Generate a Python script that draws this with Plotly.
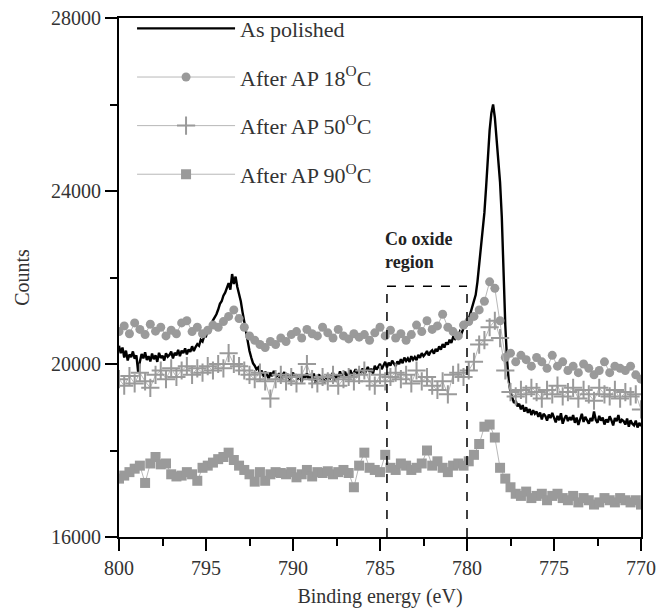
import numpy as np
import plotly.graph_objects as go

# ---------------- data ----------------
energy_dense = np.round(np.linspace(800, 770, 301), 2).tolist()
as_polished = [
    20420, 20250, 20380, 20150, 20310, 20080, 20220, 20160, 20290, 20120,
    20200, 19820, 20050, 20230, 20130, 20270, 20090, 20180, 20060, 20240,
    20110, 20200, 20050, 20260, 20140, 20190, 20080, 20250, 20170, 20210,
    20290, 20130, 20260, 20200, 20330, 20180, 20310, 20250, 20360, 20220,
    20340, 20280, 20410, 20300, 20390, 20460, 20420, 20560, 20520, 20650,
    20640, 20780, 20830, 20900, 21010, 21080, 21150, 21260, 21390, 21450,
    21580, 21650, 21740, 21870, 21720, 22080, 21850, 22020, 21780, 21620,
    21450, 21200, 20950, 20700, 20480, 20300, 20150, 20020, 19960, 19880,
    19920, 19780, 19850, 19700, 19820, 19760, 19650, 19800, 19720, 19840,
    19750, 19680, 19790, 19620, 19740, 19810, 19690, 19770, 19600, 19730,
    19800, 19690, 19760, 19640, 19720, 19580, 19750, 19680, 19790, 19640,
    19710, 19620, 19780, 19550, 19700, 19760, 19630, 19720, 19580, 19690,
    19750, 19640, 19720, 19800, 19610, 19740, 19680, 19830, 19700, 19770,
    19820, 19690, 19760, 19860, 19720, 19800, 19880, 19750, 19840, 19790,
    19900, 19760, 19850, 19930, 19820, 19890, 19780, 19960, 19870, 19940,
    20000, 19880, 19980, 20050, 19920, 20030, 19960, 20080, 20010, 19950,
    20060, 20000, 20110, 20020, 20150, 20070, 20130, 20050, 20180, 20100,
    20160, 20090, 20210, 20140, 20250, 20180, 20230, 20300, 20200, 20280,
    20320, 20240, 20350, 20290, 20410, 20330, 20460, 20380, 20500, 20450,
    20560, 20490, 20620, 20580, 20690, 20650, 20760, 20720, 20830, 20850,
    20900, 21050, 21200, 21300, 21450, 21600, 21900, 22300, 22700, 23100,
    23500, 24100, 24800, 25400, 25800, 26000, 25700, 25200, 24700, 24200,
    23400, 22100, 20900, 20100, 19600, 19350, 19200, 19100, 19150, 19020,
    19080, 18950, 19050, 18900, 19000, 18870, 18960, 18820, 18930, 18850,
    18900, 18780, 18880, 18720, 18850, 18800, 18690, 18830, 18750, 18870,
    18760, 18650, 18800, 18700, 18860, 18620, 18740, 18810, 18680, 18770,
    18700, 18820, 18640, 18760, 18590, 18730, 18850, 18660, 18780, 18700,
    18620, 18750, 18680, 18900, 18710, 18640, 18800, 18690, 18760, 18600,
    18720, 18650, 18790, 18700, 18580, 18750, 18680, 18820, 18640, 18710,
    18680, 18600, 18740, 18550, 18700, 18620, 18580, 18690, 18530, 18640,
    18560,
]

energy_sparse = np.round(np.linspace(800, 770, 101), 2).tolist()
ap_18 = [
    20750, 20880, 20700, 20950, 20800, 20680, 20920, 20760, 20850, 20650,
    20780, 20700, 20950, 21000, 20750, 20850, 20700, 20780, 20900, 20850,
    20980, 21100, 21250, 21050, 20850, 20650, 20550, 20450, 20380, 20520,
    20450, 20600, 20520, 20680, 20750, 20600, 20800, 20700, 20650, 20850,
    20720, 20600, 20800, 20650, 20580, 20700, 20620, 20680, 20550, 20720,
    20850, 20650, 20780, 20600, 20700, 20550, 20680, 20900, 20750, 21000,
    20800, 20880, 21150, 20850, 20750, 20650, 20900, 20980, 21100, 21250,
    21450, 21900, 21750, 21000, 20150, 20250, 20050, 20200, 20100, 19950,
    20150, 20050, 19900, 20200, 19950, 20050, 19850, 19950, 19800, 20000,
    19900, 19750, 19850, 20050, 19800, 19950, 19900, 19850, 19950, 19750,
    19650,
]
ap_50 = [
    19650, 19500, 19720, 19550, 19800, 19600, 19450, 19750, 19850, 19650,
    19900, 19700, 19850, 19950, 19750, 19900, 19800, 19950, 19850, 20000,
    19900, 20250, 20000, 19950, 19850, 19750, 19650, 19800, 19600, 19200,
    19650, 19750, 19600, 19700, 19550, 19750, 20000, 19650, 19550, 19700,
    19600, 19750, 19500, 19650, 19700, 19600, 19750, 19850, 19600, 19500,
    19750, 19600, 19700, 19800, 19650, 19750, 19550, 19850, 19600, 19700,
    19500, 19400, 19600, 19300, 19750, 19800, 19700, 19850, 20050, 20450,
    20550, 20850, 21000, 20600, 19850, 19350, 19250, 19400, 19300, 19450,
    19350, 19200, 19400, 19300, 19500, 19250, 19350, 19450, 19200, 19400,
    19300, 19150, 19450, 19300, 19250, 19400, 19200, 19350, 19250, 19300,
    18950,
]
ap_90 = [
    17350, 17420, 17500, 17580, 17650, 17250, 17700, 17850, 17680, 17700,
    17450, 17400, 17420, 17500, 17450, 17300, 17600, 17650, 17720, 17800,
    17850, 17950, 17780, 17650, 17550, 17450, 17280, 17500, 17300, 17450,
    17500, 17480, 17450, 17500, 17380, 17450, 17550, 17400, 17500, 17480,
    17520, 17450, 17500, 17550, 17480, 17150, 17650, 17950, 17600, 17550,
    17500, 17900, 17600, 17550, 17700, 17650, 17550, 17600, 17700, 18000,
    17650, 17750, 17600, 17500, 17650, 17700, 17650, 17750, 17900, 18150,
    18550, 18600, 18300, 17600, 17350, 17150, 17000, 16950, 17050, 16900,
    16950, 17000, 16850, 16950, 17000, 16900, 16850, 16950, 16800, 16900,
    16850, 16750, 16800, 16900, 16850, 16800, 16900, 16850, 16800, 16850,
    16750,
]

x_ticks = [800, 795, 790, 785, 780, 775, 770]
y_ticks = [16000, 20000, 24000, 28000]
oxide_box_x = [784.6, 780.0]
oxide_box_top = 21800

FONT = "Liberation Serif"
GRAY = "#9a9a9a"
LINEGRAY = "#b8b8b8"

fig = go.Figure()
fig.add_trace(go.Scatter(
    x=energy_dense, y=as_polished, mode="lines", name="As polished",
    line=dict(color="black", width=2.4), legendgroup="a"))
fig.add_trace(go.Scatter(
    x=energy_sparse, y=ap_18, mode="lines+markers", name="After AP 18<sup>O</sup>C",
    line=dict(color=LINEGRAY, width=1),
    marker=dict(symbol="circle", size=9, color=GRAY), legendgroup="b"))
fig.add_trace(go.Scatter(
    x=energy_sparse, y=ap_50, mode="lines+markers", name="After AP 50<sup>O</sup>C",
    line=dict(color=LINEGRAY, width=1),
    marker=dict(symbol="cross-thin", size=13, color=GRAY, line=dict(color=GRAY, width=2)),
    legendgroup="c"))
fig.add_trace(go.Scatter(
    x=energy_sparse, y=ap_90, mode="lines+markers", name="After AP 90<sup>O</sup>C",
    line=dict(color=LINEGRAY, width=1),
    marker=dict(symbol="square", size=10, color=GRAY), legendgroup="d"))

# Co oxide region dashed box
dash = dict(color="black", width=1.5, dash="dash")
fig.add_shape(type="line", x0=oxide_box_x[0], x1=oxide_box_x[0], y0=16000, y1=oxide_box_top, line=dash)
fig.add_shape(type="line", x0=oxide_box_x[1], x1=oxide_box_x[1], y0=16000, y1=oxide_box_top, line=dash)
fig.add_shape(type="line", x0=oxide_box_x[0], x1=oxide_box_x[1], y0=oxide_box_top, y1=oxide_box_top, line=dash)
fig.add_annotation(x=oxide_box_x[0], y=oxide_box_top, xanchor="left", yanchor="bottom",
                   text="<b>Co oxide<br>region</b>", showarrow=False, align="left", yshift=12,
                   xshift=-4, font=dict(family=FONT, size=18, color="#222"))

axis_common = dict(
    showgrid=False, zeroline=False, showline=True, linecolor="black", linewidth=2,
    mirror=True, ticks="outside", ticklen=12, tickwidth=2, tickcolor="black",
    tickfont=dict(family=FONT, size=20, color="#333"),
)
fig.update_xaxes(
    range=[800, 770], tickvals=x_ticks, **axis_common,
    minor=dict(dtick=2.5, ticks="outside", ticklen=7, tickwidth=2, tickcolor="black"),
    title=dict(text="Binding energy (eV)", font=dict(family=FONT, size=20, color="#333"), standoff=11),
)
fig.update_yaxes(
    range=[16000, 28000], tickvals=y_ticks, tickformat="d", **axis_common,
    minor=dict(dtick=2000, ticks="outside", ticklen=7, tickwidth=2, tickcolor="black"),
    title=dict(text="Counts", font=dict(family=FONT, size=20, color="#333"), standoff=16),
)
fig.update_layout(
    width=668, height=609, plot_bgcolor="white", paper_bgcolor="white",
    margin=dict(l=119, r=27, t=18, b=72, autoexpand=False),
    legend=dict(x=0.025, y=1.02, xanchor="left", yanchor="top", bgcolor="rgba(0,0,0,0)",
                font=dict(family=FONT, size=22, color="#333"), itemwidth=98,
                traceorder="grouped", tracegroupgap=17),
)
fig.write_html("out.html")
